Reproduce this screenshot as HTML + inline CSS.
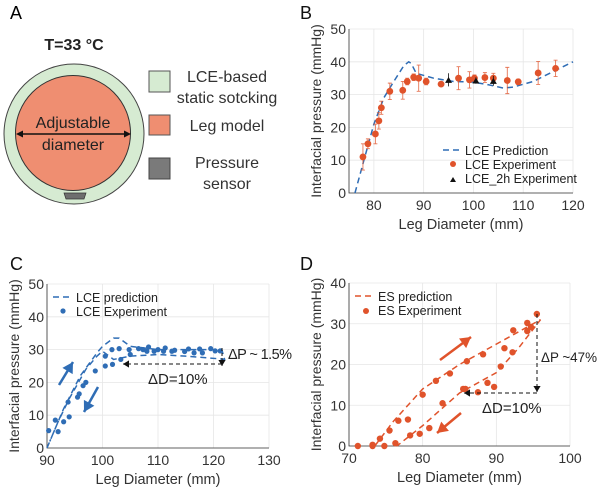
<!DOCTYPE html>
<html><head><meta charset="utf-8"><style>
body{margin:0;background:#fff;width:600px;height:487px;overflow:hidden;font-family:"Liberation Sans",Arial,sans-serif}
svg text{font-family:"Liberation Sans",Arial,sans-serif}
</style></head><body>
<svg id="fig" width="600" height="487" viewBox="0 0 600 487">
<g>
<text x="10" y="19" font-size="18">A</text>
<text x="74" y="50" font-size="16" font-weight="bold" fill="#222" text-anchor="middle">T=33 °C</text>
<circle cx="74" cy="134" r="70" fill="#d6ebd2" stroke="#444" stroke-width="1"/>
<circle cx="73" cy="133" r="57.5" fill="#ef8e71" stroke="#333" stroke-width="1"/>
<path d="M64 193 L86 193 L84 199 L66 199 Z" fill="#6e6e6e" stroke="#333" stroke-width="0.7"/>
<line x1="18" y1="134" x2="129" y2="134" stroke="#111" stroke-width="1.5"/>
<path d="M16 134 L23 130.5 L23 137.5 Z M131 134 L124 130.5 L124 137.5 Z" fill="#111"/>
<text x="73" y="128" font-size="16" fill="#222" text-anchor="middle">Adjustable</text>
<text x="73" y="150" font-size="16" fill="#222" text-anchor="middle">diameter</text>
<rect x="149" y="71" width="21" height="21" fill="#d6ebd2" stroke="#555"/>
<rect x="149" y="115" width="21" height="20" fill="#ef8e71" stroke="#555"/>
<rect x="149" y="158" width="21" height="21" fill="#7a7a7a" stroke="#444"/>
<g font-size="16" fill="#333" text-anchor="middle">
<text x="227" y="82">LCE-based</text>
<text x="227" y="103">static sotcking</text>
<text x="227" y="131">Leg model</text>
<text x="227" y="168">Pressure</text>
<text x="227" y="189">sensor</text>
</g>
</g>
<g id="pb"></g><g id="pc"></g><g id="pd"></g>
</svg>
<script>
// Panel B data
const bExpX=[77.8,78.8,80.3,81,81.5,83.2,85.8,86.7,88,89,90.5,93.5,97,99.2,100.2,102.3,104,106.8,109,113,116.5];
const bExpY=[11,15,18,22,26,31,31.3,34,35.3,35,34,33.2,35,34.5,35,35.2,35,34.3,33.9,36.6,38];
const bExpErr=[4,1.5,3,2.5,2,2.5,2.7,1,1,4,1,0.5,3.5,2.5,1,1.5,1.5,4,0.8,3.5,2.5];
const b2hX=[95,100.5,104];
const b2hY=[34.5,34.3,34.2];
const b2hErr=[2,1,1.5];
const bPredX=[76.2,78,80,82,84,86,87,87.5,88.5,92,96,100,103,106,108,112,116,120];
const bPredY=[0,10,21,29,34,38.8,40,39.5,36.5,35,34,33.8,33,32,32.3,34,37,40];
const bXTicks=[80,90,100,110,120];
const bYTicks=[0,10,20,30,40,50];
// Panel C data
const cExpX=[90.3,91.5,92,93,93.8,94,95.5,95.8,96.5,97,98.7,100.5,100.5,101.7,101.8,103,103.3,104.8,105,106.5,107.3,108,108.3,109.3,110,111,111.3,112.5,113,114.8,115.5,116.5,117.5,118,119.5,120.3,121.2];
const cExpY=[5.3,8.5,5,8,14,9.5,15.5,16.5,19,20,23.5,28,25,30,25.5,30.3,27,30,28.5,30.3,30,29.5,30.8,29.5,30,29.5,30.5,29.5,29.8,29.4,30.2,29,30.2,29,30.3,29.6,29.6];
const cPredX=[90,93,96,99,100,102,103,105,110,115,121.5,122,121,115,110,105,102,100,99,97,94,92,90.5];
const cPredY=[0,12,22,29,31,33.5,33.5,31,30,30,30,27,27.2,28,28.5,28,27,29.5,28,24,15,8,2];
const cXTicks=[90,100,110,120,130];
const cYTicks=[0,10,20,30,40,50];
// Panel D data
const dExpX=[71.2,73.2,73.2,74.2,74.8,75.5,76.3,76.7,78,78.3,79.6,80,80.9,81.8,82.7,83.7,85.5,85.8,86,87.5,88.2,88.8,89.7,90.6,91.1,92.2,92.3,94.2,94.2,94.7,95.5];
const dExpY=[0,0.3,0,1.8,0,3.8,0.7,6.2,6.5,2.6,3,12.6,4.4,16,10.5,17.8,14,14,20.8,13.2,22.5,15.5,14.5,19.5,24,23,28.4,30.2,28.2,29.2,32.4];
const dPredX=[73.5,76,80,85,90,94,96,93,90,85,80,76.5];
const dPredY=[0,6,14,20,25,29,31,24,18,13,5,0];
const dXTicks=[70,80,90,100];
const dYTicks=[0,10,20,30,40];
const NS='http://www.w3.org/2000/svg';
function mk(parent,tag,attrs){const e=document.createElementNS(NS,tag);for(const k in attrs)e.setAttribute(k,attrs[k]);parent.appendChild(e);return e;}
function axes(g,o){
  const sx=v=>o.l+(v-o.x0)/(o.x1-o.x0)*(o.r-o.l);
  const sy=v=>o.b-(v-o.y0)/(o.y1-o.y0)*(o.b-o.t);
  o.xt.forEach(v=>{const ln=mk(g,'line',{x1:sx(v),x2:sx(v),y1:o.t,y2:o.b,stroke:'#e6e6e6','stroke-width':0.8});
    
    
    const t=mk(g,'text',{x:sx(v),y:o.b+17,'font-size':14,'text-anchor':'middle',fill:'#333'});t.textContent=v;
    
    });
  o.yt.forEach(v=>{const ln=mk(g,'line',{x1:o.l,x2:o.r,y1:sy(v),y2:sy(v),stroke:'#e6e6e6','stroke-width':0.8});
    
    
    const t=mk(g,'text',{x:o.l-3,y:sy(v)+5,'font-size':14,'text-anchor':'end',fill:'#333'});t.textContent=v;
    
    });
  const fr=mk(g,'path',{d:`M${o.l} ${o.t}V${o.b}H${o.r}`,fill:'none',stroke:'#333','stroke-width':0.8});
  
  
  const xl=mk(g,'text',{x:(o.l+o.r)/2,y:o.b+36,'font-size':14.5,'text-anchor':'middle',fill:'#333'});xl.textContent='Leg Diameter (mm)';
  
  
  const cy=(o.t+o.b)/2;
  const yl=mk(g,'text',{x:o.l-28,y:cy,'font-size':14,'text-anchor':'middle',fill:'#333',transform:`rotate(-90 ${o.l-28} ${cy})`});yl.textContent='Interfacial pressure (mmHg)';
  
  
  const pl=mk(g,'text',{x:o.lx,y:o.ly,'font-size':18,fill:'#111'});pl.textContent=o.label;
  
  
  return [sx,sy];
}
function dashed(g,xs,ys,sx,sy,col){const p=mk(g,'polyline',{points:xs.map((x,i)=>sx(x)+','+sy(ys[i])).join(' '),fill:'none',stroke:col,'stroke-width':1.5,'stroke-dasharray':'6 4'});
  
  }
function dots(g,xs,ys,sx,sy,col,r){xs.forEach((x,i)=>{const c=mk(g,'circle',{cx:sx(x),cy:sy(ys[i]),r:r,fill:col});
  
  });}
function txt(g,x,y,s,fs,col,name,anchor){const t=mk(g,'text',{x:x,y:y,'font-size':fs,fill:col||'#222','text-anchor':anchor||'start'});t.textContent=s;
  
  return t;}
function arrow(g,x1,y1,x2,y2,col,w,dash,name){const l=mk(g,'line',{x1:x1,y1:y1,x2:x2,y2:y2,stroke:col,'stroke-width':w});if(dash)l.setAttribute('stroke-dasharray',dash);
  
  
  const a=Math.atan2(y2-y1,x2-x1),h=w*3+3,s=w*1.6+2;
  mk(g,'path',{d:`M${x2} ${y2} L${x2-h*Math.cos(a)+s*Math.sin(a)} ${y2-h*Math.sin(a)-s*Math.cos(a)} L${x2-h*Math.cos(a)-s*Math.sin(a)} ${y2-h*Math.sin(a)+s*Math.cos(a)}Z`,fill:col});}
const BLUE='#2f6db5',ORG='#e0532b';
(function(){const g=document.getElementById('pb');
const [sx,sy]=axes(g,{l:349,r:573,t:29,b:193,x0:75,x1:120,y0:0,y1:50,xt:bXTicks,yt:bYTicks,label:'B',lx:300,ly:19});
dashed(g,bPredX,bPredY,sx,sy,BLUE);
bExpX.forEach((x,i)=>{const e=mk(g,'path',{d:`M${sx(x)} ${sy(bExpY[i]-bExpErr[i])}V${sy(bExpY[i]+bExpErr[i])}M${sx(x)-2} ${sy(bExpY[i]-bExpErr[i])}h4M${sx(x)-2} ${sy(bExpY[i]+bExpErr[i])}h4`,stroke:ORG,'stroke-width':0.9,fill:'none',opacity:0.8});
  
  });
dots(g,bExpX,bExpY,sx,sy,ORG,3.4);
b2hX.forEach((x,i)=>{const e=mk(g,'path',{d:`M${sx(x)} ${sy(b2hY[i]-b2hErr[i])}V${sy(b2hY[i]+b2hErr[i])}`,stroke:'#111','stroke-width':0.8});
  
  
  const t=mk(g,'path',{d:`M${sx(x)-3.5} ${sy(b2hY[i])+3}h7l-3.5 -6z`,fill:'#111'});
  
  });
mk(g,'line',{x1:443,x2:462,y1:150,y2:150,stroke:BLUE,'stroke-width':1.5,'stroke-dasharray':'6 4'});
txt(g,465,155,'LCE Prediction',12.5,'#222','legend-prediction');
mk(g,'circle',{cx:453,cy:164,r:3,fill:ORG});
txt(g,465,169,'LCE Experiment',12.5,'#222','legend-experiment');
mk(g,'path',{d:'M450 182h6l-3 -5z',fill:'#111'});
txt(g,465,183,'LCE_2h Experiment',12.5,'#222','legend-2h-experiment');
})();
(function(){const g=document.getElementById('pc');
const [sx,sy]=axes(g,{l:47,r:269,t:284,b:448,x0:90,x1:130,y0:0,y1:50,xt:cXTicks,yt:cYTicks,label:'C',lx:10,ly:270});
dashed(g,cPredX,cPredY,sx,sy,BLUE);
dots(g,cExpX,cExpY,sx,sy,BLUE,2.6);
mk(g,'line',{x1:53,x2:72,y1:297,y2:297,stroke:BLUE,'stroke-width':1.5,'stroke-dasharray':'6 4'});
txt(g,76,302,'LCE prediction',12.5,'#222','legend-prediction');
mk(g,'circle',{cx:63,cy:311,r:2.6,fill:BLUE});
txt(g,76,316,'LCE Experiment',12.5,'#222','legend-experiment');
arrow(g,59,385,73,362,BLUE,2.5,null,'loading-arrow');
arrow(g,98,387,84,412,BLUE,2.5,null,'unloading-arrow');
arrow(g,222,348,222,366,'#111',1,'3 2','delta-p-arrow');
arrow(g,222,364,123,364,'#111',1,'4 3','delta-d-arrow');
const tp=txt(g,228,359,'ΔP ~ 1.5%',14.5,'#222','delta-p-label');tp.setAttribute('textLength','64');
txt(g,148,384,'ΔD=10%',15,'#222','delta-d-label');
})();
(function(){const g=document.getElementById('pd');
const [sx,sy]=axes(g,{l:349,r:570,t:283,b:446,x0:70,x1:100,y0:0,y1:40,xt:dXTicks,yt:dYTicks,label:'D',lx:300,ly:270});
dashed(g,dPredX,dPredY,sx,sy,ORG);
dots(g,dExpX,dExpY,sx,sy,ORG,3.2);
mk(g,'line',{x1:355,x2:374,y1:296,y2:296,stroke:ORG,'stroke-width':1.5,'stroke-dasharray':'6 4'});
txt(g,378,301,'ES prediction',12.5,'#222','legend-prediction');
mk(g,'circle',{cx:366,cy:311,r:3,fill:ORG});
txt(g,378,315,'ES Experiment',12.5,'#222','legend-experiment');
arrow(g,440,360,471,337,ORG,2.5,null,'loading-arrow');
arrow(g,461,413,437,433,ORG,2.5,null,'unloading-arrow');
arrow(g,537,314,537,392,'#111',1,'4 3','delta-p-arrow');
arrow(g,537,393,464,393,'#111',1,'4 3','delta-d-arrow');
const tq=txt(g,541,362,'ΔP ~47%',14,'#222','delta-p-label');tq.setAttribute('textLength','56');tq.setAttribute('lengthAdjust','spacingAndGlyphs');
txt(g,482,413,'ΔD=10%',15,'#222','delta-d-label');
})();
</script>
</body></html>
